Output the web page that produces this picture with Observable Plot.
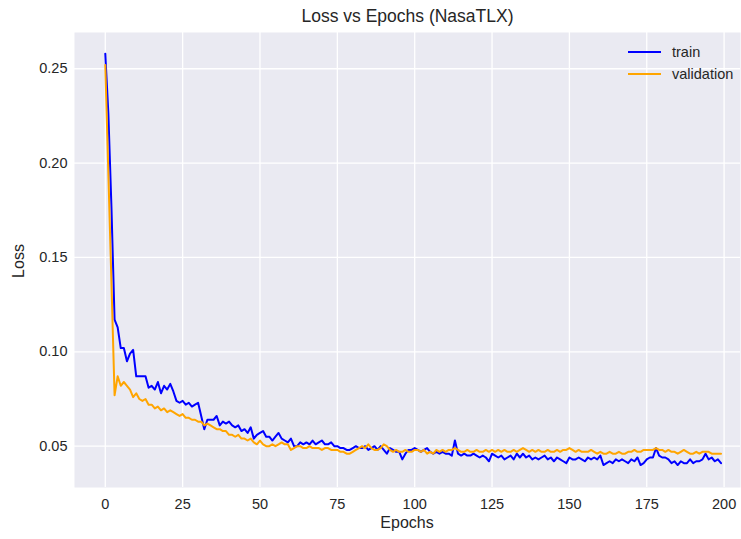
<!DOCTYPE html>
<html>
<head>
<meta charset="utf-8">
<script src="https://cdn.jsdelivr.net/npm/d3@7"></script>
<script src="https://cdn.jsdelivr.net/npm/@observablehq/plot@0.6"></script>
<style>
  html, body { margin: 0; padding: 0; background: #fff; }
  #wrap { position: relative; width: 741px; height: 539px; font-family: "Liberation Sans", Arial, sans-serif; color: #262626; }
  #title { position: absolute; left: 74px; width: 667px; top: 6px; text-align: center; font-size: 17.5px; }
  #chart { position: absolute; left: 0; top: 32px; }
  #ylab { position: absolute; left: 19px; top: 261px; transform: translate(-50%, -50%) rotate(-90deg); font-size: 16px; }
  #xlab { position: absolute; left: 407px; top: 523px; transform: translate(-50%, -50%); font-size: 16px; }
  #legend { position: absolute; left: 628px; top: 41px; font-size: 14.5px; }
  #legend div { height: 22px; display: flex; align-items: center; }
  #legend svg { margin-right: 11px; }
</style>
</head>
<body>
<div id="wrap">
  <div id="title">Loss vs Epochs (NasaTLX)</div>
  <div id="chart"></div>
  <div id="ylab">Loss</div>
  <div id="xlab">Epochs</div>
  <div id="legend"></div>
</div>
<script>
const seriesNames = ["train", "validation"];
const seriesColors = ["#0000FF", "#FFA500"];
const xTicks = [0, 25, 50, 75, 100, 125, 150, 175, 200];
const yTicks = [0.05, 0.10, 0.15, 0.20, 0.25];

const trainLoss = [
0.258,0.226,0.176,0.117,0.113,0.102,0.102,0.095,0.099,0.101,
0.087,0.087,0.087,0.087,0.081,0.082,0.080,0.084,0.078,0.082,
0.080,0.083,0.079,0.074,0.073,0.074,0.072,0.073,0.071,0.072,
0.073,0.066,0.059,0.064,0.064,0.064,0.066,0.061,0.063,0.062,
0.063,0.061,0.060,0.061,0.058,0.059,0.057,0.060,0.054,0.056,
0.057,0.058,0.055,0.055,0.053,0.055,0.057,0.054,0.053,0.052,
0.054,0.050,0.050,0.052,0.051,0.052,0.051,0.053,0.051,0.052,
0.053,0.051,0.051,0.052,0.050,0.050,0.049,0.049,0.048,0.048,
0.049,0.050,0.049,0.049,0.050,0.048,0.049,0.050,0.048,0.050,
0.048,0.046,0.049,0.048,0.047,0.047,0.043,0.046,0.048,0.048,
0.049,0.048,0.047,0.048,0.049,0.047,0.046,0.047,0.046,0.047,
0.046,0.046,0.045,0.053,0.046,0.045,0.046,0.045,0.045,0.046,
0.045,0.044,0.045,0.044,0.042,0.046,0.045,0.044,0.045,0.043,
0.044,0.045,0.043,0.046,0.044,0.046,0.044,0.045,0.043,0.044,
0.043,0.044,0.045,0.043,0.044,0.042,0.044,0.043,0.042,0.041,
0.044,0.043,0.043,0.044,0.043,0.042,0.044,0.043,0.044,0.043,
0.045,0.040,0.041,0.042,0.041,0.043,0.042,0.043,0.042,0.041,
0.043,0.042,0.044,0.040,0.041,0.043,0.044,0.044,0.049,0.045,
0.044,0.044,0.043,0.041,0.042,0.040,0.042,0.041,0.041,0.043,
0.041,0.042,0.042,0.043,0.046,0.043,0.044,0.042,0.043,0.041
];

const validationLoss = [
0.252,0.194,0.136,0.077,0.087,0.082,0.084,0.082,0.080,0.076,
0.078,0.075,0.074,0.075,0.072,0.072,0.070,0.071,0.069,0.070,
0.068,0.069,0.068,0.067,0.066,0.067,0.065,0.065,0.064,0.064,
0.063,0.063,0.061,0.062,0.061,0.060,0.059,0.059,0.058,0.058,
0.056,0.056,0.055,0.056,0.054,0.054,0.053,0.054,0.052,0.051,
0.053,0.051,0.050,0.050,0.051,0.050,0.051,0.052,0.051,0.051,
0.048,0.049,0.050,0.050,0.049,0.049,0.050,0.049,0.049,0.049,
0.048,0.049,0.049,0.048,0.048,0.048,0.047,0.047,0.046,0.046,
0.047,0.048,0.049,0.050,0.049,0.051,0.049,0.048,0.048,0.049,
0.051,0.050,0.048,0.047,0.048,0.047,0.047,0.048,0.047,0.047,
0.048,0.048,0.047,0.048,0.046,0.047,0.046,0.048,0.047,0.048,
0.047,0.048,0.048,0.049,0.048,0.047,0.047,0.048,0.047,0.047,
0.048,0.047,0.047,0.048,0.047,0.048,0.047,0.048,0.047,0.048,
0.047,0.047,0.048,0.047,0.048,0.049,0.048,0.047,0.048,0.047,
0.048,0.047,0.047,0.048,0.047,0.047,0.048,0.047,0.048,0.048,
0.049,0.048,0.047,0.048,0.047,0.047,0.047,0.048,0.047,0.046,
0.047,0.046,0.046,0.047,0.046,0.046,0.047,0.046,0.046,0.047,
0.047,0.048,0.047,0.047,0.048,0.048,0.048,0.048,0.049,0.048,
0.048,0.047,0.048,0.047,0.047,0.046,0.047,0.048,0.047,0.046,
0.046,0.047,0.046,0.047,0.047,0.047,0.046,0.046,0.046,0.046
];

const rows = [];
[trainLoss, validationLoss].forEach((arr, s) => {
  arr.forEach((v, i) => rows.push({epoch: i, loss: v, series: seriesNames[s]}));
});

const chart = Plot.plot({
  width: 741,
  height: 507,
  marginLeft: 74,
  marginRight: 1,
  marginTop: 0,
  marginBottom: 52,
  style: { fontFamily: "Liberation Sans, Arial, sans-serif", fontSize: "14.5px", color: "#262626", background: "transparent" },
  x: { domain: [-9.95, 205.3] },
  y: { domain: [0.0281, 0.2692] },
  color: { domain: seriesNames, range: seriesColors },
  marks: [
    Plot.frame({ fill: "#EAEAF2", stroke: "none" }),
    Plot.gridX(xTicks, { stroke: "#fff", strokeOpacity: 1, strokeWidth: 1.3 }),
    Plot.gridY(yTicks, { stroke: "#fff", strokeOpacity: 1, strokeWidth: 1.3 }),
    Plot.axisX(xTicks, { tickSize: 0, tickPadding: 11, label: null, fill: "#262626", fontSize: 14.5 }),
    Plot.axisY(yTicks, { tickSize: 0, tickPadding: 7, tickFormat: d3.format(".2f"), label: null, fill: "#262626", fontSize: 14.5 }),
    Plot.line(rows, { x: "epoch", y: "loss", z: "series", stroke: "series", strokeWidth: 2 })
  ]
});
document.getElementById("chart").appendChild(chart);

const legend = document.getElementById("legend");
seriesNames.forEach((name, i) => {
  const row = document.createElement("div");
  row.innerHTML = `<svg width="33" height="4"><line x1="0" y1="2" x2="33" y2="2" stroke="${seriesColors[i]}" stroke-width="2.2"/></svg><span>${name}</span>`;
  legend.appendChild(row);
});
</script>
</body>
</html>
